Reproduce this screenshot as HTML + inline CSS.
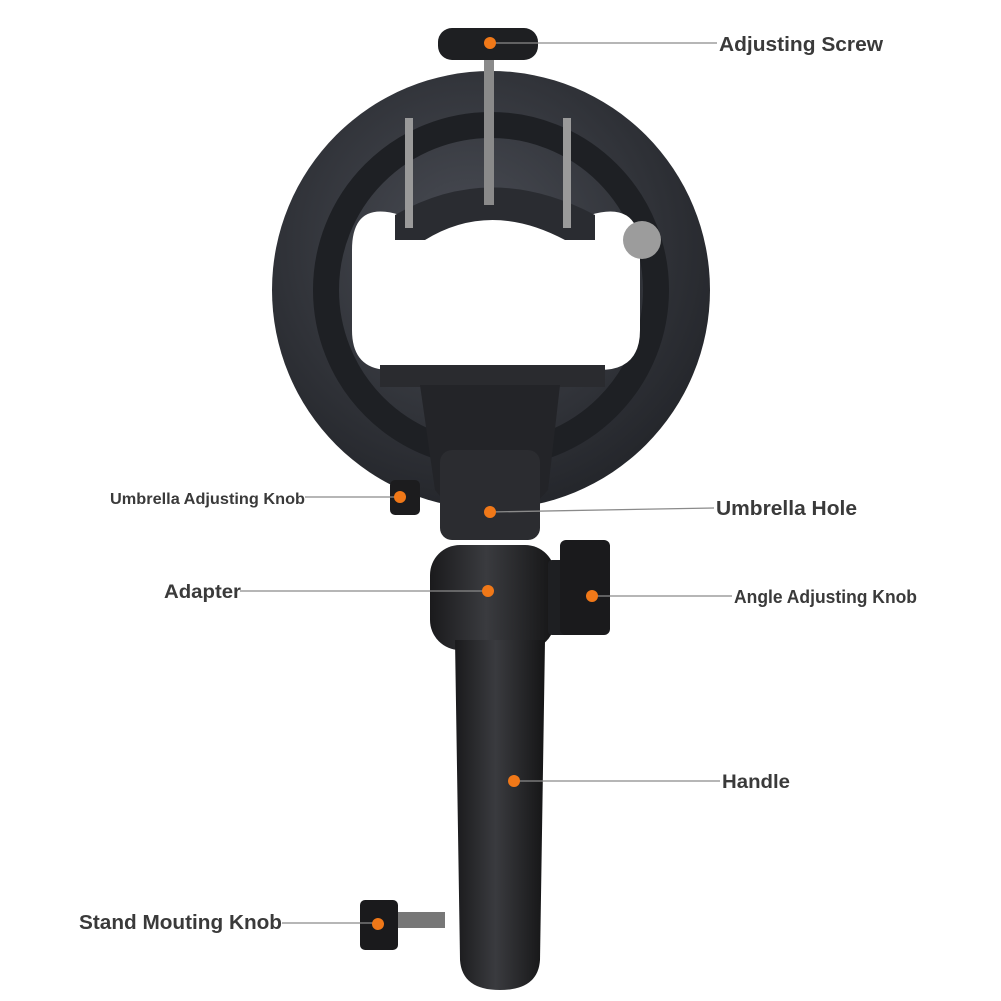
<!DOCTYPE html>
<html><head><meta charset="utf-8"><style>
html,body{margin:0;padding:0;background:#fff}
svg{display:block}
text{font-family:"Liberation Sans",Arial,sans-serif;font-weight:bold;fill:#3a3a3a}
</style></head><body>
<svg width="1001" height="1001" viewBox="0 0 1001 1001">
<defs>
<radialGradient id="rg" cx="0.45" cy="0.4" r="0.6"><stop offset="0" stop-color="#4a4d55"/><stop offset="1" stop-color="#25272c"/></radialGradient>
<linearGradient id="hg" x1="0" x2="1"><stop offset="0" stop-color="#1a1a1c"/><stop offset="0.45" stop-color="#3a3b3f"/><stop offset="1" stop-color="#151516"/></linearGradient>
</defs>
<circle cx="491" cy="290" r="219" fill="url(#rg)"/>
<circle cx="491" cy="290" r="165" fill="none" stroke="#1e2024" stroke-width="26"/>
<path d="M352 250 Q352 200 400 215 Q490 170 590 215 Q640 200 640 250 L640 330 Q640 370 600 370 L390 370 Q352 370 352 330 Z" fill="#fff"/>
<path d="M395 215 Q490 160 595 215 L595 240 L565 240 Q490 200 425 240 L395 240 Z" fill="#2a2c31"/>
<rect x="405" y="118" width="8" height="110" fill="#9a9a9a"/>
<rect x="563" y="118" width="8" height="110" fill="#9a9a9a"/>
<rect x="484" y="55" width="10" height="150" fill="#8a8a8a"/>
<circle cx="642" cy="240" r="19" fill="#9c9c9c"/>
<rect x="380" y="365" width="225" height="22" fill="#2a2b2f"/>
<path d="M420 385 L560 385 L548 490 L520 520 L460 520 L435 490 Z" fill="#232428"/>
<rect x="440" y="450" width="100" height="90" rx="12" fill="#2b2c30"/>
<rect x="390" y="480" width="30" height="35" rx="5" fill="#1c1c1e"/>
<rect x="430" y="545" width="125" height="105" rx="30" fill="url(#hg)"/>
<rect x="548" y="560" width="25" height="75" rx="4" fill="#1e1f22"/>
<rect x="560" y="540" width="50" height="95" rx="6" fill="#1a1a1c"/>
<path d="M455 640 L545 640 L540 960 Q538 990 500 990 Q462 990 460 960 Z" fill="url(#hg)"/>
<rect x="395" y="912" width="50" height="16" fill="#777"/>
<rect x="360" y="900" width="38" height="50" rx="5" fill="#1a1a1c"/>
<rect x="438" y="28" width="100" height="32" rx="14" fill="#1e1f22"/>
<g stroke="#8a8a8a" stroke-width="1.3">
<line x1="490" y1="43" x2="717" y2="43"/>
<line x1="305" y1="497" x2="400" y2="497"/>
<line x1="490" y1="512" x2="714" y2="508"/>
<line x1="240" y1="591" x2="488" y2="591"/>
<line x1="592" y1="596" x2="732" y2="596"/>
<line x1="514" y1="781" x2="720" y2="781"/>
<line x1="282" y1="923" x2="378" y2="923"/>
</g>
<g fill="#f07818">
<circle cx="490" cy="43" r="6"/><circle cx="400" cy="497" r="6"/><circle cx="490" cy="512" r="6"/>
<circle cx="488" cy="591" r="6"/><circle cx="592" cy="596" r="6"/><circle cx="514" cy="781" r="6"/><circle cx="378" cy="924" r="6"/>
</g>
<text x="719" y="51" font-size="20.5" textLength="164" lengthAdjust="spacingAndGlyphs">Adjusting Screw</text>
<text x="110" y="504" font-size="16" textLength="195" lengthAdjust="spacingAndGlyphs">Umbrella Adjusting Knob</text>
<text x="716" y="515" font-size="20" textLength="141" lengthAdjust="spacingAndGlyphs">Umbrella Hole</text>
<text x="164" y="598" font-size="19.5" textLength="77" lengthAdjust="spacingAndGlyphs">Adapter</text>
<text x="734" y="603" font-size="18" textLength="183" lengthAdjust="spacingAndGlyphs">Angle Adjusting Knob</text>
<text x="722" y="788" font-size="19.5" textLength="68" lengthAdjust="spacingAndGlyphs">Handle</text>
<text x="79" y="929" font-size="20" textLength="203" lengthAdjust="spacingAndGlyphs">Stand Mouting Knob</text>
</svg>
</body></html>
